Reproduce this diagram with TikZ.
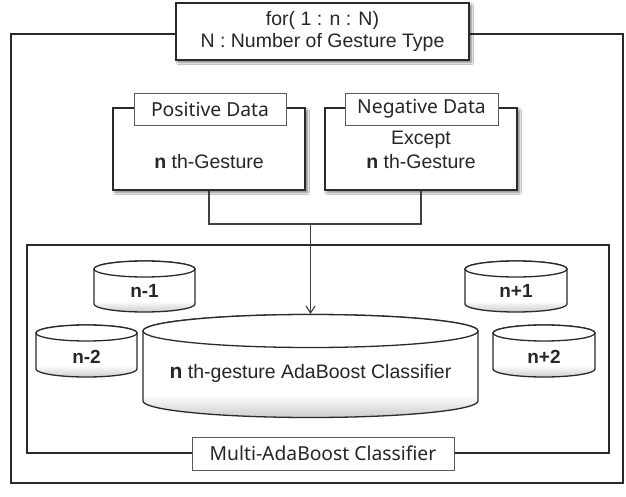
\documentclass[tikz,border=0pt]{standalone}
\usepackage{fontspec}
\setmainfont{Liberation Sans}
\newfontfamily\lblfont{Noto Sans}
\usetikzlibrary{arrows.meta,shadows.blur}
\definecolor{ink}{HTML}{2A2A2A}
\definecolor{txt}{HTML}{262626}
\pgfdeclareverticalshading{cylshade}{100bp}{color(0bp)=(black!20); color(25bp)=(black!20); color(36bp)=(white); color(100bp)=(white)}
\newcommand\drawcyl[5]{%
  \path[cylbody] ({#1-#2},#3) -- ({#1-#2},#4)
    arc[start angle=180,end angle=360,x radius=#2,y radius=#5]
    -- ({#1+#2},#3)
    arc[start angle=0,end angle=180,x radius=#2,y radius=#5] -- cycle;
  \draw[cyltop] (#1,#3) ellipse[x radius=#2,y radius=#5];
}
\begin{document}
\begin{tikzpicture}[x=1pt,y=1pt,
  every node/.style={text=txt},
  outerline/.style={draw=ink, line width=1.6pt},
  innerline/.style={draw=ink, line width=2.2pt},
  shadowbox/.style={draw=ink, line width=1.4pt, fill=white, inner sep=0pt,
    blur shadow={shadow xshift=2.5pt, shadow yshift=-2.5pt, shadow blur steps=6, shadow opacity=50}},
  tagbox/.style={draw=black!65, line width=0.9pt, fill=white, inner sep=0pt,
    font=\lblfont\fontsize{19.3}{21}\selectfont},
  bodytext/.style={font=\fontsize{19.5}{24}\selectfont, align=center},
  cylbody/.style={draw=ink, line width=1.3pt, shading=cylshade},
  cyltop/.style={draw=ink, line width=1.3pt, fill=white},
  cyltext/.style={font=\bfseries\fontsize{19}{22}\selectfont},
  conn/.style={draw=black!75, line width=1.3pt},
  arrowtip/.style={-{Straight Barb[length=7pt,width=9pt,line width=1.1pt]}}
]
\useasboundingbox (0,0) rectangle (626,496);
\fill[white] (0,0) rectangle (626,496);

% outer frame and title
\draw[outerline] (11,13) rectangle (623,462);
\node[shadowbox, minimum width=293pt, minimum height=57pt, align=center,
      font=\fontsize{19.5}{22}\selectfont] (title) at (322.5,464.5)
  {for( 1 : n : N)\\N : Number of Gesture Type};

% inner frame and its label
\draw[innerline] (27,43) rectangle (609,251);
\node[tagbox, minimum width=262pt, minimum height=33pt] (multi) at (323,42.5) {Multi-AdaBoost Classifier};

% data boxes
\node[shadowbox, minimum width=192pt, minimum height=82pt] (pos) at (209,347) {};
\node[shadowbox, minimum width=192pt, minimum height=82pt] (neg) at (421,347) {};
\node[tagbox, minimum width=152pt, minimum height=32pt] (poslbl) at (210,387) {Positive Data};
\node[tagbox, minimum width=153pt, minimum height=32pt] (neglbl) at (421.5,387) {Negative Data};
\node[bodytext] (postext) at (209,334) {{\bfseries n} th-Gesture};
\node[bodytext] (negtext) at (421,346) {Except\\{\bfseries n} th-Gesture};

% cylinders
\drawcyl{310.5}{167.5}{165}{95}{16.5}
\drawcyl{144.5}{50.5}{227}{192}{8}
\drawcyl{516}{51}{227}{192}{8}
\drawcyl{86.5}{50.5}{163}{127}{8}
\drawcyl{544}{51}{163}{127}{8}
\coordinate (bigtop) at (310.5,182);
\node[bodytext] (bigtext) at (310.5,123) {{\bfseries\fontsize{21}{24}\selectfont n} th-gesture AdaBoost Classifier};
\node[cyltext] (cm1) at (144.5,205) {n-1};
\node[cyltext] (cp1) at (516,205) {n+1};
\node[cyltext] (cm2) at (86.5,139) {n-2};
\node[cyltext] (cp2) at (544,139) {n+2};

% connectors
\coordinate (j) at (310.5,272);
\draw[conn] (pos.south) |- (j) -| (neg.south);
\draw[conn, arrowtip] (j) -- (bigtop);
\end{tikzpicture}
\end{document}
